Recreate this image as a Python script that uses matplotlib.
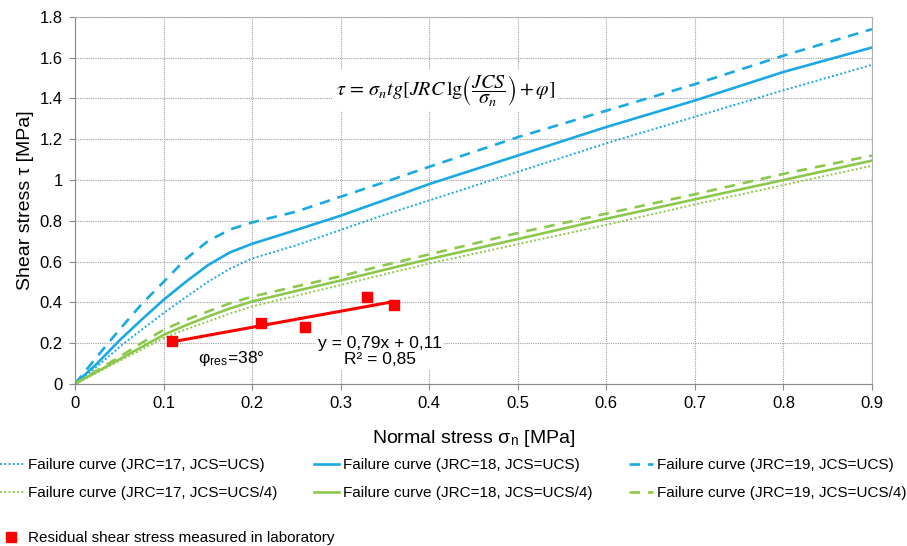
import numpy as np
import matplotlib.pyplot as plt
from matplotlib.lines import Line2D

plt.rcParams['font.family'] = ['Liberation Sans', 'DejaVu Sans']
plt.rcParams['mathtext.fontset'] = 'stix'

# Failure curves
sn = [0, 0.025, 0.05, 0.075, 0.1, 0.125, 0.15, 0.175, 0.2, 0.25, 0.3, 0.35,
      0.4, 0.5, 0.6, 0.7, 0.8, 0.9]
blue_17 = [0, 0.085, 0.18, 0.265, 0.347, 0.425, 0.50, 0.565, 0.615, 0.68, 0.755, 0.83,
           0.90, 1.04, 1.18, 1.31, 1.44, 1.565]
blue_18 = [0, 0.10, 0.212, 0.314, 0.412, 0.50, 0.582, 0.645, 0.687, 0.755, 0.825, 0.902,
           0.98, 1.12, 1.26, 1.39, 1.53, 1.65]
blue_19 = [0, 0.134, 0.265, 0.39, 0.50, 0.612, 0.70, 0.757, 0.792, 0.845, 0.918, 0.99,
           1.065, 1.21, 1.34, 1.47, 1.61, 1.74]
green_17 = [0, 0.056, 0.112, 0.168, 0.224, 0.267, 0.306, 0.345, 0.38, 0.432, 0.485, 0.538,
            0.59, 0.685, 0.78, 0.88, 0.975, 1.07]
green_18 = [0, 0.06, 0.12, 0.18, 0.24, 0.287, 0.33, 0.37, 0.404, 0.456, 0.507, 0.56,
            0.612, 0.71, 0.81, 0.905, 1.0, 1.095]
green_19 = [0, 0.066, 0.132, 0.2, 0.265, 0.313, 0.355, 0.395, 0.428, 0.478, 0.528, 0.583,
            0.635, 0.74, 0.835, 0.93, 1.03, 1.12]

# Residual shear stress measured in laboratory
lab_x = [0.11, 0.21, 0.26, 0.33, 0.36]
lab_y = [0.21, 0.30, 0.28, 0.425, 0.385]

blue = '#1AA9E4'
green = '#8CC84B'
red = '#FF0000'

fig = plt.figure(figsize=(9.07, 5.46), dpi=100)
ax = fig.add_axes([0.0827, 0.297, 0.8787, 0.672])

l_b17, = ax.plot(sn, blue_17, color=blue, lw=1.4, ls=(0, (1, 1.2)))
l_b18, = ax.plot(sn, blue_18, color=blue, lw=1.9)
l_b19, = ax.plot(sn, blue_19, color=blue, lw=1.9, ls=(0, (4, 3)))
l_g17, = ax.plot(sn, green_17, color=green, lw=1.4, ls=(0, (1, 1.2)))
l_g18, = ax.plot(sn, green_18, color=green, lw=1.9)
l_g19, = ax.plot(sn, green_19, color=green, lw=1.9, ls=(0, (4, 3)))

# linear fit of the lab points
coef = np.polyfit(lab_x, lab_y, 1)
fit = np.poly1d(coef)
fx = np.array([min(lab_x), max(lab_x)])
ax.plot(fx, fit(fx), color=red, lw=2.2, zorder=4)
ax.scatter(lab_x, lab_y, marker='s', s=55, color=red, zorder=5)

ax.set_xlim(0, 0.9)
ax.set_ylim(0, 1.8)
ax.set_xticks(np.arange(0, 0.91, 0.1))
ax.set_xticklabels(['0', '0.1', '0.2', '0.3', '0.4', '0.5', '0.6', '0.7', '0.8', '0.9'])
ax.set_yticks(np.arange(0, 1.81, 0.2))
ax.set_yticklabels(['0', '0.2', '0.4', '0.6', '0.8', '1', '1.2', '1.4', '1.6', '1.8'])
ax.tick_params(labelsize=12, length=4, color='#888888', pad=5)
ax.grid(True, color='#a0a0a0', linestyle=(0, (1, 1)), linewidth=0.8)
ax.set_axisbelow(True)
for sp in ax.spines.values():
    sp.set_color('#b0b0b0')
ax.spines['left'].set_color('#888888')
ax.spines['bottom'].set_color('#888888')

ax.set_xlabel('Normal stress σ$_\\mathregular{n}$ [MPa]', fontsize=14, labelpad=12)
ax.set_ylabel('Shear stress τ [MPa]', fontsize=14, labelpad=4)

ax.text(0.418, 1.44,
        r'$\tau\,=\,\sigma_n tg[JRC\,\mathrm{lg}\left(\dfrac{JCS}{\sigma_n}\right) + \varphi]$',
        fontsize=14.5, ha='center', va='center',
        bbox=dict(facecolor='white', edgecolor='none', pad=2))
ax.text(0.344, 0.157, 'y = 0,79x + 0,11\nR² = 0,85', fontsize=12.5,
        ha='center', va='center', linespacing=1.1,
        bbox=dict(facecolor='white', edgecolor='none', pad=1))
ax.text(0.177, 0.125, 'φ$_\\mathregular{res}$=38°', fontsize=12.5,
        ha='center', va='center')

fig.legend([l_b17, l_g17, l_b18, l_g18, l_b19, l_g19],
           ['Failure curve (JRC=17, JCS=UCS)', 'Failure curve (JRC=17, JCS=UCS/4)',
            'Failure curve (JRC=18, JCS=UCS)', 'Failure curve (JRC=18, JCS=UCS/4)',
            'Failure curve (JRC=19, JCS=UCS)', 'Failure curve (JRC=19, JCS=UCS/4)'],
           ncol=3, loc='upper left', bbox_to_anchor=(0.0, 0.161), frameon=False,
           fontsize=11, handlelength=1.6, handletextpad=0.25, columnspacing=2.4,
           labelspacing=0.93, borderpad=0, borderaxespad=0)
fig.legend([Line2D([], [], marker='s', color=red, ls='none', markersize=7)],
           ['Residual shear stress measured in laboratory'],
           loc='upper left', bbox_to_anchor=(0.004, 0.0275), frameon=False,
           fontsize=11, handlelength=1.0, handletextpad=0.6, borderpad=0,
           borderaxespad=0)

fig.savefig('out.png', dpi=100)
